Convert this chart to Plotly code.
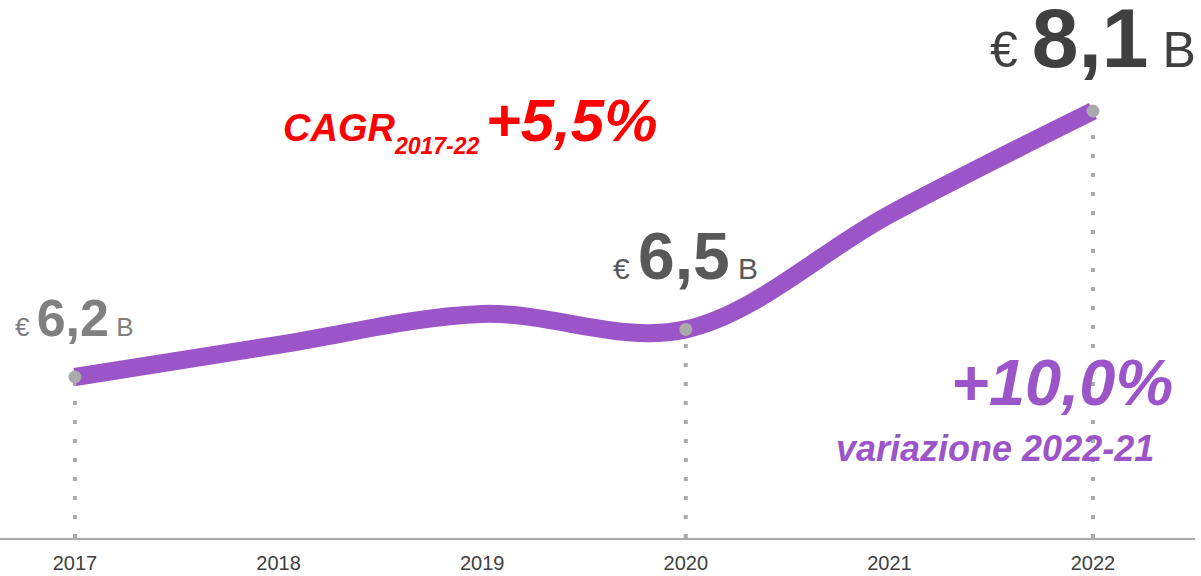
#valore del mercato 2017-2022, linea smussata con etichette
import plotly.graph_objects as go

years = [2017, 2018, 2019, 2020, 2021, 2022]
values = [6.2, 6.43, 6.65, 6.54, 7.36, 8.1]  # miliardi di euro

# punti evidenziati con etichetta
marked_years = [2017, 2020, 2022]
marked_values = [6.2, 6.54, 8.1]
marked_labels = ["6,2", "6,5", "8,1"]
label_colors = ["#808080", "#595959", "#404040"]
label_sizes = [52, 66, 84]
unit_sizes = [26, 30, 50]
label_shifts = [28, 34, 24]

cagr_text = "+5,5%"
cagr_period = "2017-22"
yoy_text = "+10,0%"
yoy_caption = "variazione 2022-21"

PURPLE = "#9b55c9"
GREY = "#aaaaaa"
FONT = "Arial, Liberation Sans, sans-serif"

fig = go.Figure()

fig.add_trace(
    go.Scatter(
        x=years,
        y=values,
        mode="lines",
        line=dict(color=PURPLE, width=18, shape="spline", smoothing=1),
        hoverinfo="skip",
    )
)
fig.add_trace(
    go.Scatter(
        x=marked_years,
        y=marked_values,
        mode="markers",
        marker=dict(color=GREY, size=13),
        hoverinfo="skip",
    )
)

# linee tratteggiate verticali dai punti all'asse
for yr, val in zip(marked_years, marked_values):
    fig.add_shape(
        type="line", xref="x", yref="y",
        x0=yr, x1=yr, y0=5.05, y1=val,
        line=dict(color=GREY, width=4, dash="4px,15px"),
        layer="below",
    )

# etichette dei valori
for yr, val, lab, col, big, small, sh in zip(marked_years, marked_values, marked_labels,
                                             label_colors, label_sizes, unit_sizes, label_shifts):
    fig.add_annotation(
        x=yr, y=val, xref="x", yref="y",
        text=(f"<span style='font-size:{small}px'>€ </span>"
              f"<b>{lab}</b>"
              f"<span style='font-size:{small}px'> B</span>"),
        showarrow=False, yanchor="bottom", yshift=sh,
        font=dict(family=FONT, size=big, color=col),
    )

# CAGR
fig.add_annotation(
    x=470, y=85, xref="paper", yref="paper",
    text=(f"<b><i><span style='font-size:38px'>CAGR</span>"
          f"<sub><span style='font-size:23px'>{cagr_period}</span></sub>"
          f"<span style='font-size:23px'> </span>{cagr_text}</i></b>"),
    showarrow=False,
    font=dict(family=FONT, size=60, color="#ff0000"),
)

# variazione annua
fig.add_annotation(
    x=1175, y=421, xref="paper", yref="paper",
    text=f"<b><i>{yoy_text}</i></b>", showarrow=False, xanchor="right",
    font=dict(family=FONT, size=65, color=PURPLE),
)
fig.add_annotation(
    x=1156, y=471, xref="paper", yref="paper",
    text=f"<b><i>{yoy_caption}</i></b>", showarrow=False, xanchor="right",
    font=dict(family=FONT, size=36, color=PURPLE),
)

# le annotazioni in carta sono espresse in pixel: convertiamo
W, H = 1201, 576
ml, mr, mt, mb = 0, 6, 0, 38
pw, ph = W - ml - mr, H - mt - mb
for ann in fig.layout.annotations:
    if ann.xref == "paper":
        ann.x = (ann.x - ml) / pw
        ann.y = 1 - (ann.y - mt) / ph

fig.update_layout(
    width=W, height=H,
    margin=dict(l=ml, r=mr, t=mt, b=mb),
    plot_bgcolor="white", paper_bgcolor="white",
    showlegend=False,
    xaxis=dict(
        range=[2016.632, 2022.501],
        tickmode="array", tickvals=years, ticktext=[str(y) for y in years],
        showgrid=False, zeroline=False,
        showline=True, linecolor="#aaaaaa", linewidth=2,
        ticks="", ticklabelstandoff=6,
        tickfont=dict(family=FONT, size=20, color="#404040"),
        fixedrange=True,
    ),
    yaxis=dict(
        range=[5.05, 8.893], visible=False, fixedrange=True,
    ),
)

# niente margine di pagina, la figura parte dall'angolo
fig.write_html("out.html", config={"displayModeBar": False},
               post_script="document.body.style.margin='0';")
